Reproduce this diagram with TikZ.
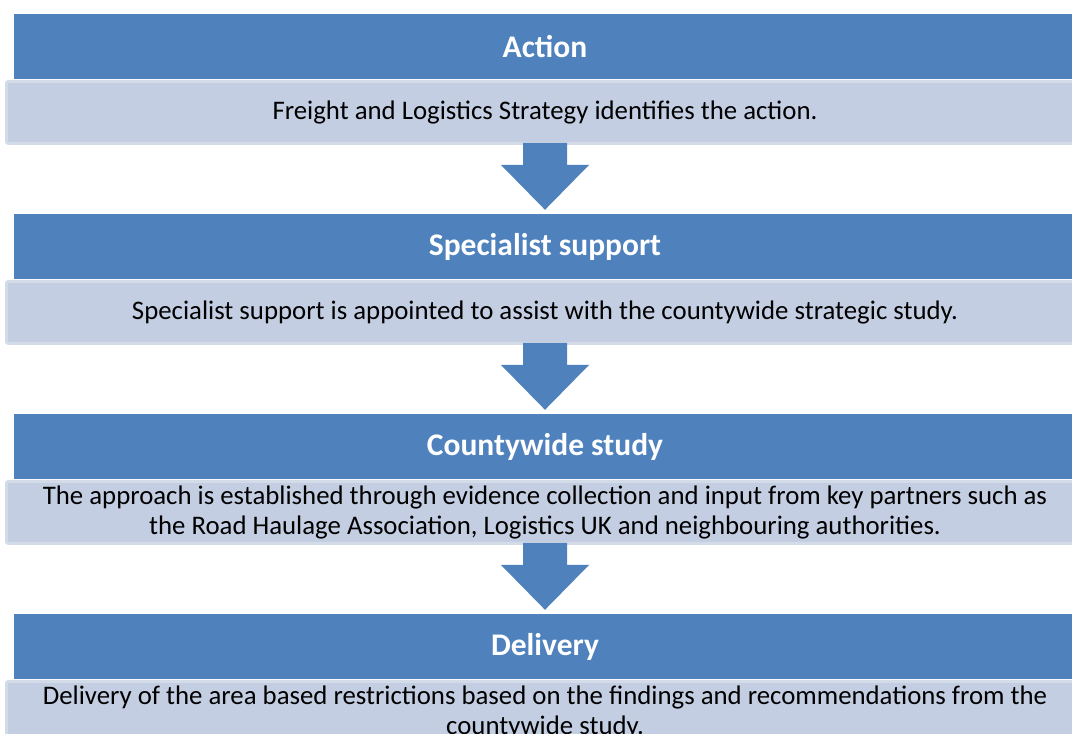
\documentclass[tikz,border=0pt]{standalone}
\usepackage{fontspec}
\setmainfont{Carlito}
\usetikzlibrary{calc}
\definecolor{headblue}{HTML}{4F81BD}
\definecolor{bodyblue}{HTML}{C4CEE2}
\definecolor{bodyedge}{HTML}{D3DBE9}
\tikzset{
    stagehead/.style={fill=headblue, text=white, inner sep=0pt,
        minimum width=1062pt, minimum height=65pt,
        font=\fontsize{31.5}{36}\selectfont\bfseries},
    stagebody/.style={fill=bodyblue, draw=bodyedge, line width=3pt,
        rounded corners=2pt, inner sep=0pt, align=center,
        minimum width=1077pt, minimum height=62pt,
        font=\fontsize{26.8}{30}\selectfont},
}
\begin{document}
\begin{tikzpicture}[x=1pt, y=1pt]
    \useasboundingbox (0,0) rectangle (1072,734);
    \clip (0,0) rectangle (1072,734);

    % stages
    \foreach \i/\title/\desc in {
        1/Action/{Freight and Logistics Strategy identifies the action.},
        2/Specialist support/{Specialist support is appointed to assist with the countywide strategic study.},
        3/Countywide study/{The approach is established through evidence collection and input from key partners such as\\the Road Haulage Association, Logistics UK and neighbouring authorities.},
        4/Delivery/{Delivery of the area based restrictions based on the findings and recommendations from the\\countywide study.}} {
        \node[stagehead] (head\i) at (545, 687.5-200*\i+200) {\title};
        \node[stagebody] (body\i) at (545, 621.5-200*\i+200) {\desc};
    }

    % arrows between stages
    \foreach \i/\j in {1/2, 2/3, 3/4} {
        \fill[headblue] ($(body\i.south)+(-22,2)$) -- ++(0,-22) -- ++(-22,0)
            -- ($(head\j.north)+(0,4)$) -- ($(body\i.south)+(44,-20)$)
            -- ++(-22,0) -- ++(0,22) -- cycle;
    }
\end{tikzpicture}
\end{document}
